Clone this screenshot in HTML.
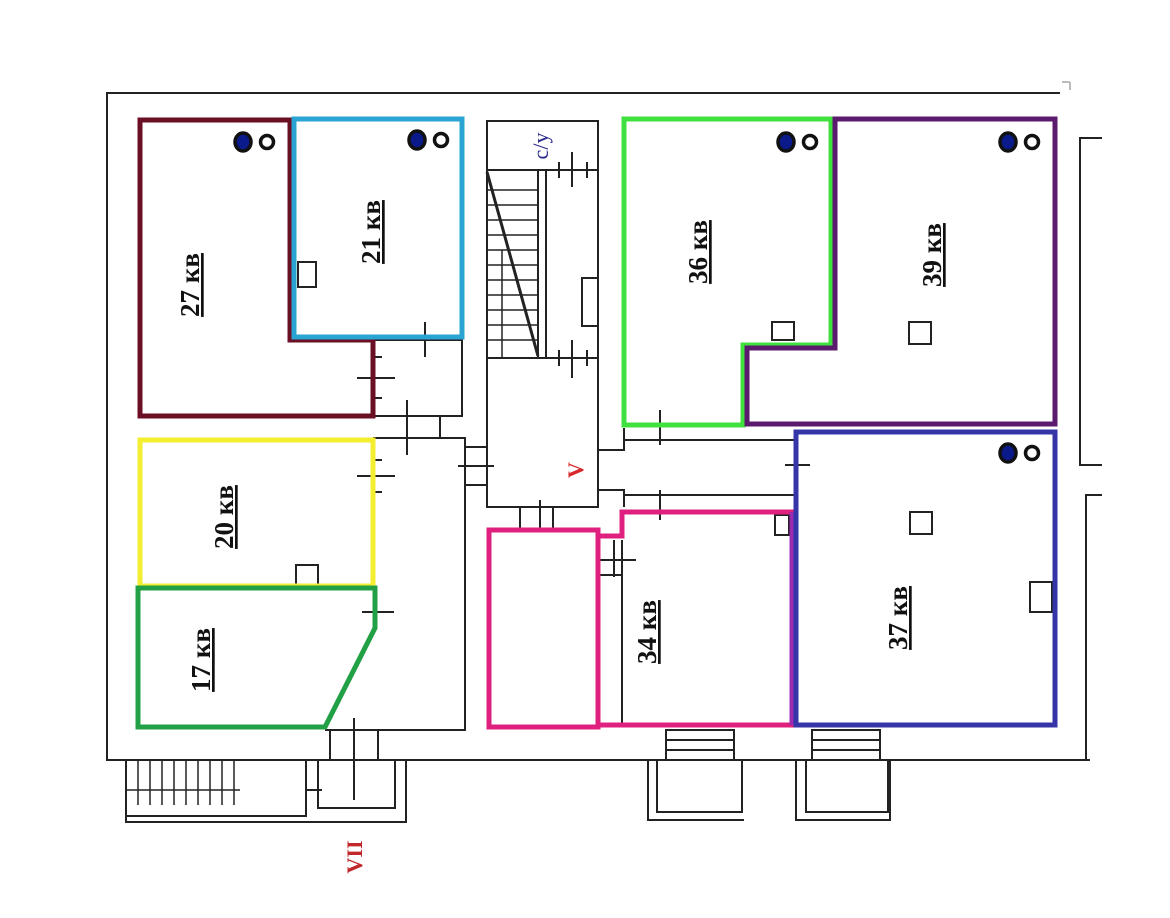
<!DOCTYPE html>
<html><head><meta charset="utf-8"><style>html,body{margin:0;padding:0;background:#fff}svg{display:block}</style></head><body>
<svg width="1170" height="918" viewBox="0 0 1170 918" xmlns="http://www.w3.org/2000/svg" font-family="'Liberation Serif',serif">
<rect width="1170" height="918" fill="#fff"/>
<g fill="none" stroke="#222" stroke-width="2">
<polyline points="1060,93 107,93 107,760 1090,760"/>
<line x1="1062" y1="82" x2="1070" y2="82" stroke="#bbb"/><line x1="1070" y1="82" x2="1070" y2="90" stroke="#bbb"/>
<polyline points="1102,138 1080,138 1080,465 1102,465"/>
<polyline points="1102,495 1086,495 1086,760"/>
<rect x="487" y="121" width="111" height="386"/>
<line x1="487" y1="170" x2="598" y2="170"/>
<line x1="487" y1="358" x2="598" y2="358"/>
<line x1="538" y1="170" x2="538" y2="358"/>
<line x1="546" y1="170" x2="546" y2="358"/>
<line x1="487" y1="172" x2="538" y2="356" stroke-width="3"/>
<rect x="582" y="278" width="16" height="48"/>
<g stroke-width="1.5">
<line x1="487" y1="190" x2="538" y2="190"/><line x1="487" y1="205" x2="538" y2="205"/><line x1="487" y1="220" x2="538" y2="220"/><line x1="487" y1="235" x2="538" y2="235"/><line x1="487" y1="250" x2="538" y2="250"/><line x1="487" y1="265" x2="538" y2="265"/><line x1="487" y1="280" x2="538" y2="280"/><line x1="487" y1="295" x2="538" y2="295"/><line x1="487" y1="310" x2="538" y2="310"/><line x1="487" y1="325" x2="538" y2="325"/><line x1="487" y1="340" x2="538" y2="340"/>
<line x1="502" y1="250" x2="502" y2="358"/>
</g>
<line x1="556" y1="170" x2="595" y2="170"/><line x1="572" y1="152" x2="572" y2="187"/><line x1="559" y1="162" x2="559" y2="178"/><line x1="587" y1="162" x2="587" y2="178"/>
<line x1="572" y1="340" x2="572" y2="378"/><line x1="559" y1="350" x2="559" y2="366"/><line x1="587" y1="350" x2="587" y2="366"/>
<polyline points="373,340 462,340 462,416 373,416"/>
<polyline points="373,438 465,438 465,730 325,730"/>
<line x1="440" y1="416" x2="440" y2="438"/>
<line x1="407" y1="400" x2="407" y2="455"/>
<line x1="465" y1="447" x2="487" y2="447"/><line x1="465" y1="485" x2="487" y2="485"/><line x1="458" y1="466" x2="494" y2="466"/>
<line x1="357" y1="378" x2="395" y2="378"/><line x1="373" y1="357" x2="382" y2="357"/><line x1="373" y1="398" x2="382" y2="398"/>
<line x1="425" y1="322" x2="425" y2="357"/>
<line x1="357" y1="476" x2="395" y2="476"/><line x1="373" y1="460" x2="382" y2="460"/><line x1="373" y1="492" x2="382" y2="492"/>
<line x1="362" y1="612" x2="394" y2="612"/>
<polyline points="598,450 624,450 624,428"/>
<polyline points="598,490 624,490 624,507"/>
<line x1="624" y1="440" x2="796" y2="440"/>
<line x1="624" y1="495" x2="796" y2="495"/>
<line x1="660" y1="410" x2="660" y2="445"/><line x1="660" y1="490" x2="660" y2="520"/>
<line x1="797" y1="440" x2="797" y2="490"/><line x1="785" y1="465" x2="810" y2="465"/>
<line x1="520" y1="507" x2="520" y2="528"/><line x1="540" y1="500" x2="540" y2="528"/><line x1="553" y1="507" x2="553" y2="528"/>
<line x1="598" y1="560" x2="636" y2="560"/><line x1="614" y1="540" x2="614" y2="577"/>
<line x1="598" y1="575" x2="622" y2="575"/><line x1="622" y1="540" x2="622" y2="725"/>
<rect x="298" y="262" width="18" height="25"/>
<rect x="772" y="322" width="22" height="18"/>
<rect x="909" y="322" width="22" height="22"/>
<rect x="910" y="512" width="22" height="22"/>
<rect x="296" y="565" width="22" height="20"/>
<rect x="1030" y="582" width="22" height="30"/>
<rect x="775" y="515" width="14" height="20"/>
<rect x="330" y="730" width="48" height="30"/><line x1="354" y1="718" x2="354" y2="800"/>
<rect x="126" y="760" width="180" height="56"/>
<g stroke-width="1.5">
<line x1="138" y1="760" x2="138" y2="805"/><line x1="150" y1="760" x2="150" y2="805"/><line x1="162" y1="760" x2="162" y2="805"/><line x1="174" y1="760" x2="174" y2="805"/><line x1="186" y1="760" x2="186" y2="805"/><line x1="198" y1="760" x2="198" y2="805"/><line x1="210" y1="760" x2="210" y2="805"/><line x1="222" y1="760" x2="222" y2="805"/><line x1="234" y1="760" x2="234" y2="805"/><line x1="126" y1="790" x2="240" y2="790"/>
</g>
<polyline points="318,760 318,808 395,808 395,760"/>
<polyline points="126,816 126,822 406,822 406,760"/>
<line x1="306" y1="790" x2="322" y2="790"/>
<rect x="666" y="730" width="68" height="30"/><line x1="666" y1="740" x2="734" y2="740"/><line x1="666" y1="750" x2="734" y2="750"/>
<polyline points="657,760 657,812 742,812 742,760"/><polyline points="648,760 648,820 744,820"/>
<rect x="812" y="730" width="68" height="30"/><line x1="812" y1="740" x2="880" y2="740"/><line x1="812" y1="750" x2="880" y2="750"/>
<polyline points="806,760 806,812 888,812 888,760"/><polyline points="796,760 796,820 890,820 890,760"/>
</g>
<g fill="none" stroke-width="5" stroke-linejoin="miter">
<polygon points="140,120 290,120 290,340 373,340 373,416 140,416" stroke="#6a0f24"/>
<rect x="294" y="119" width="168" height="218" stroke="#2aa4d2"/>
<polygon points="624,119 831,119 831,345 743,345 743,425 624,425" stroke="#3fe03f"/>
<polygon points="835,119 1055,119 1055,424 747,424 747,348 835,348" stroke="#5c1a6e"/>
<rect x="140" y="440" width="233" height="146" stroke="#f4ee30"/>
<polygon points="138,588 375,588 375,628 325,727 138,727" stroke="#22a045"/>
<rect x="489" y="530" width="109" height="197" stroke="#e0207e"/>
<polygon points="598,536 622,536 622,512 792,512 792,725 598,725" stroke="#e0207e"/>
<line x1="792" y1="512" x2="792" y2="725" stroke="#9a2ab0"/>
<rect x="796" y="432" width="259" height="293" stroke="#3535a8"/>
</g>
<g stroke="#111" stroke-width="3.5">
<ellipse cx="243" cy="142" rx="8" ry="9" fill="#0a1a8a"/><circle cx="267" cy="142" r="6.5" fill="#fff"/>
<ellipse cx="417" cy="140" rx="8" ry="9" fill="#0a1a8a"/><circle cx="441" cy="140" r="6.5" fill="#fff"/>
<ellipse cx="786" cy="142" rx="8" ry="9" fill="#0a1a8a"/><circle cx="810" cy="142" r="6.5" fill="#fff"/>
<ellipse cx="1008" cy="142" rx="8" ry="9" fill="#0a1a8a"/><circle cx="1032" cy="142" r="6.5" fill="#fff"/>
<ellipse cx="1008" cy="453" rx="8" ry="9" fill="#0a1a8a"/><circle cx="1032" cy="453" r="6.5" fill="#fff"/>
</g>
<g font-weight="bold" font-size="27" fill="#111" text-anchor="middle" text-decoration="underline">
<text transform="translate(199,285) rotate(-90)">27 кв</text>
<text transform="translate(380,232) rotate(-90)">21 кв</text>
<text transform="translate(233,517) rotate(-90)">20 кв</text>
<text transform="translate(210,660) rotate(-90)">17 кв</text>
<text transform="translate(707,252) rotate(-90)">36 кв</text>
<text transform="translate(941,255) rotate(-90)">39 кв</text>
<text transform="translate(656,632) rotate(-90)">34 кв</text>
<text transform="translate(907,618) rotate(-90)">37 кв</text>
</g>
<text transform="translate(548,146) rotate(-90)" font-size="22" fill="#2a2a8a" text-anchor="middle">c/y</text>
<text transform="translate(583,470) rotate(-90)" font-size="22" font-weight="bold" fill="#d8282a" text-anchor="middle">V</text>
<text transform="translate(362,857) rotate(-90)" font-size="22" font-weight="bold" fill="#c0282a" text-anchor="middle">VII</text>
</svg>
</body></html>
